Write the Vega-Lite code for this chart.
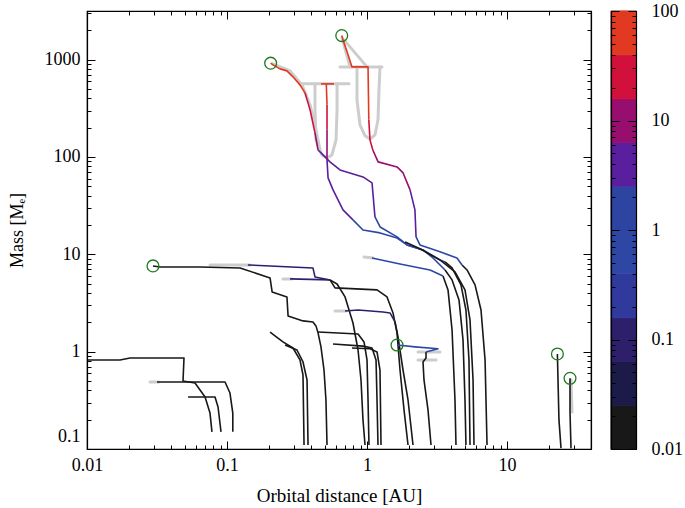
{
"$schema": "https://vega.github.io/schema/vega-lite/v6.json",
"background": "white",
"padding": {"left": 7, "top": 1, "right": 0, "bottom": 0},
"bounds": "flush",
"spacing": 20,
"datasets": {
"tr": [
{"s":"G2k","i":0,"x":7.2,"m":0.11,"c":0.015},{"s":"G2k","i":1,"x":6.97,"m":0.822,"c":0.015},{"s":"G2k","i":2,"x":6.52,"m":2.68,"c":0.015},{"s":"G2k","i":3,"x":5.91,"m":4.85,"c":0.015},{"s":"G2k","i":4,"x":5.18,"m":6.91,"c":0.015},{"s":"G2k","i":5,"x":4.77,"m":7.78,"c":0.015},
{"s":"G2b","i":0,"x":4.77,"m":7.78,"c":0.6},{"s":"G2b","i":1,"x":4.39,"m":9.18,"c":0.6},{"s":"G2b","i":2,"x":3.32,"m":10.6,"c":0.6},{"s":"G2b","i":3,"x":2.39,"m":12.5,"c":0.6},{"s":"G2b","i":4,"x":2.24,"m":15.1,"c":0.6},
{"s":"G2v","i":0,"x":2.24,"m":15.1,"c":4},{"s":"G2v","i":1,"x":2.2,"m":28.6,"c":4},{"s":"G2v","i":2,"x":2.03,"m":45.9,"c":4},
{"s":"G2m","i":0,"x":2.03,"m":45.9,"c":10},{"s":"G2m","i":1,"x":1.81,"m":68.6,"c":10},{"s":"G2m","i":2,"x":1.64,"m":79.1,"c":10},{"s":"G2m","i":3,"x":1.2,"m":89.1,"c":10},{"s":"G2m","i":4,"x":1.1,"m":118,"c":10},
{"s":"G2c","i":0,"x":1.1,"m":118,"c":25},{"s":"G2c","i":1,"x":1.05,"m":150,"c":25},{"s":"G2c","i":2,"x":1.03,"m":241,"c":25},
{"s":"G2r","i":0,"x":1.03,"m":241,"c":60},{"s":"G2r","i":1,"x":1.017,"m":843,"c":60},{"s":"G2r","i":2,"x":0.781,"m":843,"c":60},{"s":"G2r","i":3,"x":0.732,"m":1120,"c":60},{"s":"G2r","i":4,"x":0.674,"m":1597,"c":60},{"s":"G2r","i":5,"x":0.66,"m":1768,"c":60},
{"s":"G1k","i":0,"x":5.44,"m":0.11,"c":0.015},{"s":"G1k","i":1,"x":5.35,"m":0.822,"c":0.015},{"s":"G1k","i":2,"x":5.09,"m":2.68,"c":0.015},{"s":"G1k","i":3,"x":4.69,"m":4.85,"c":0.015},{"s":"G1k","i":4,"x":4.05,"m":7.25,"c":0.015},{"s":"G1k","i":5,"x":3.61,"m":8.35,"c":0.015},
{"s":"G1b","i":0,"x":3.61,"m":8.35,"c":0.6},{"s":"G1b","i":1,"x":3.32,"m":8.76,"c":0.6},{"s":"G1b","i":2,"x":2.51,"m":11.1,"c":0.6},{"s":"G1b","i":3,"x":1.93,"m":12.5,"c":0.6},{"s":"G1b","i":4,"x":1.64,"m":15.1,"c":0.6},{"s":"G1b","i":5,"x":1.24,"m":19.1,"c":0.6},{"s":"G1b","i":6,"x":1.14,"m":24.2,"c":0.6},
{"s":"G1v","i":0,"x":1.14,"m":24.2,"c":4},{"s":"G1v","i":1,"x":1.086,"m":54.2,"c":4},{"s":"G1v","i":2,"x":0.936,"m":62.4,"c":4},{"s":"G1v","i":3,"x":0.641,"m":73.7,"c":4},{"s":"G1v","i":4,"x":0.544,"m":89.1,"c":4},{"s":"G1v","i":5,"x":0.485,"m":105,"c":4},{"s":"G1v","i":6,"x":0.447,"m":118,"c":4},
{"s":"G1m","i":0,"x":0.447,"m":118,"c":10},{"s":"G1m","i":1,"x":0.425,"m":177,"c":10},
{"s":"G1c","i":0,"x":0.425,"m":177,"c":25},{"s":"G1c","i":1,"x":0.392,"m":305,"c":25},{"s":"G1c","i":2,"x":0.361,"m":456,"c":25},
{"s":"G1r","i":0,"x":0.361,"m":456,"c":60},{"s":"G1r","i":1,"x":0.332,"m":551,"c":60},{"s":"G1r","i":2,"x":0.296,"m":666,"c":60},{"s":"G1r","i":3,"x":0.268,"m":767,"c":60},{"s":"G1r","i":4,"x":0.239,"m":804,"c":60},{"s":"G1r","i":5,"x":0.213,"m":884,"c":60},{"s":"G1r","i":6,"x":0.205,"m":920,"c":60},
{"s":"G3k","i":0,"x":5.09,"m":0.11,"c":0.015},{"s":"G3k","i":1,"x":5.01,"m":0.319,"c":0.015},{"s":"G3k","i":2,"x":4.85,"m":1.32,"c":0.015},{"s":"G3k","i":3,"x":4.54,"m":3.4,"c":0.015},{"s":"G3k","i":4,"x":4.05,"m":5.46,"c":0.015},{"s":"G3k","i":5,"x":3.61,"m":6.91,"c":0.015},
{"s":"G3b","i":0,"x":3.61,"m":6.91,"c":0.6},{"s":"G3b","i":1,"x":2.96,"m":9.18,"c":0.6},{"s":"G3b","i":2,"x":2.51,"m":11.1,"c":0.6},{"s":"G3b","i":3,"x":1.93,"m":12.5,"c":0.6},{"s":"G3b","i":4,"x":1.64,"m":14.7,"c":0.6},{"s":"G3b","i":5,"x":1.24,"m":16.6,"c":0.6},{"s":"G3b","i":6,"x":0.936,"m":17.8,"c":0.6},{"s":"G3b","i":7,"x":0.794,"m":22.6,"c":0.6},
{"s":"G3v","i":0,"x":0.794,"m":22.6,"c":4},{"s":"G3v","i":1,"x":0.674,"m":28.6,"c":4},{"s":"G3v","i":2,"x":0.572,"m":45.9,"c":4},{"s":"G3v","i":3,"x":0.527,"m":61,"c":4},{"s":"G3v","i":4,"x":0.518,"m":93.4,"c":4},
{"s":"G3m","i":0,"x":0.518,"m":93.4,"c":10},{"s":"G3m","i":1,"x":0.518,"m":190,"c":10},
{"s":"G3c","i":0,"x":0.518,"m":190,"c":25},{"s":"G3c","i":1,"x":0.518,"m":343,"c":25},
{"s":"G3r","i":0,"x":0.518,"m":343,"c":60},{"s":"G3r","i":1,"x":0.512,"m":564,"c":60},
{"s":"G3t","i":0,"x":0.469,"m":564,"c":60},{"s":"G3t","i":1,"x":0.581,"m":564,"c":60},
{"s":"X","i":0,"x":5.81,"m":0.11,"c":0.015},{"s":"X","i":1,"x":5.72,"m":0.512,"c":0.015},{"s":"X","i":2,"x":5.44,"m":2.12,"c":0.015},{"s":"X","i":3,"x":5.01,"m":4.31,"c":0.015},{"s":"X","i":4,"x":4.25,"m":6.59,"c":0.015},{"s":"X","i":5,"x":3.32,"m":8.76,"c":0.015},{"s":"X","i":6,"x":2.39,"m":11.4,"c":0.015},{"s":"X","i":7,"x":1.87,"m":13.4,"c":0.015},
{"s":"B1k","i":0,"x":4.32,"m":0.11,"c":0.015},{"s":"B1k","i":1,"x":4.25,"m":0.319,"c":0.015},{"s":"B1k","i":2,"x":4.05,"m":1.67,"c":0.015},{"s":"B1k","i":3,"x":3.79,"m":4.31,"c":0.015},{"s":"B1k","i":4,"x":3.49,"m":6.0,"c":0.015},
{"s":"B1b","i":0,"x":3.49,"m":6.0,"c":0.6},{"s":"B1b","i":1,"x":2.82,"m":6.91,"c":0.6},{"s":"B1b","i":2,"x":1.72,"m":7.96,"c":0.6},{"s":"B1b","i":3,"x":1.086,"m":9.18,"c":0.6},
{"s":"P7","i":0,"x":0.518,"m":0.11,"c":0.015},{"s":"P7","i":1,"x":0.509,"m":0.319,"c":0.015},{"s":"P7","i":2,"x":0.493,"m":0.648,"c":0.015},{"s":"P7","i":3,"x":0.469,"m":1.12,"c":0.015},{"s":"P7","i":4,"x":0.447,"m":1.56,"c":0.015},{"s":"P7","i":5,"x":0.432,"m":1.84,"c":0.015},{"s":"P7","i":6,"x":0.411,"m":2.02,"c":0.015},{"s":"P7","i":7,"x":0.349,"m":2.07,"c":0.015},{"s":"P7","i":8,"x":0.273,"m":2.33,"c":0.015},{"s":"P7","i":9,"x":0.268,"m":3.65,"c":0.015},{"s":"P7","i":10,"x":0.21,"m":4.11,"c":0.015},{"s":"P7","i":11,"x":0.203,"m":5.72,"c":0.015},{"s":"P7","i":12,"x":0.124,"m":7.25,"c":0.015},{"s":"P7","i":13,"x":0.0641,"m":7.42,"c":0.015},{"s":"P7","i":14,"x":0.0332,"m":7.42,"c":0.015},{"s":"P7","i":15,"x":0.0296,"m":7.6,"c":0.015},
{"s":"P8","i":0,"x":1.033,"m":0.11,"c":0.015},{"s":"P8","i":1,"x":1.017,"m":0.319,"c":0.015},{"s":"P8","i":2,"x":1.0,"m":0.822,"c":0.015},{"s":"P8","i":3,"x":0.952,"m":1.26,"c":0.015},{"s":"P8","i":4,"x":0.863,"m":1.52,"c":0.015},{"s":"P8","i":5,"x":0.447,"m":1.59,"c":0.015},
{"s":"TAk","i":0,"x":0.968,"m":0.11,"c":0.015},{"s":"TAk","i":1,"x":0.936,"m":0.199,"c":0.015},{"s":"TAk","i":2,"x":0.906,"m":0.512,"c":0.015},{"s":"TAk","i":3,"x":0.863,"m":1.04,"c":0.015},{"s":"TAk","i":4,"x":0.794,"m":1.97,"c":0.015},{"s":"TAk","i":5,"x":0.697,"m":3.65,"c":0.015},{"s":"TAk","i":6,"x":0.611,"m":4.96,"c":0.015},{"s":"TAk","i":7,"x":0.544,"m":5.46,"c":0.015},
{"s":"TAb","i":0,"x":0.544,"m":5.46,"c":0.1},{"s":"TAb","i":1,"x":0.425,"m":5.86,"c":0.1},{"s":"TAb","i":2,"x":0.411,"m":7.25,"c":0.1},{"s":"TAb","i":3,"x":0.141,"m":7.78,"c":0.1},
{"s":"TBk","i":0,"x":1.963,"m":0.11,"c":0.015},{"s":"TBk","i":1,"x":1.838,"m":0.252,"c":0.015},{"s":"TBk","i":2,"x":1.721,"m":0.648,"c":0.015},{"s":"TBk","i":3,"x":1.638,"m":1.56,"c":0.015},{"s":"TBk","i":4,"x":1.534,"m":2.5,"c":0.015},{"s":"TBk","i":5,"x":1.39,"m":3.65,"c":0.015},{"s":"TBk","i":6,"x":1.179,"m":4.31,"c":0.015},{"s":"TBk","i":7,"x":0.591,"m":4.52,"c":0.015},{"s":"TBk","i":8,"x":0.544,"m":5.46,"c":0.015},
{"s":"TBb","i":0,"x":0.544,"m":5.46,"c":0.1},{"s":"TBb","i":1,"x":0.282,"m":5.59,"c":0.1},
{"s":"TCk","i":0,"x":2.131,"m":0.11,"c":0.015},{"s":"TCk","i":1,"x":1.963,"m":0.319,"c":0.015},{"s":"TCk","i":2,"x":1.808,"m":0.648,"c":0.015},{"s":"TCk","i":3,"x":1.665,"m":1.42,"c":0.015},{"s":"TCk","i":4,"x":1.585,"m":2.02,"c":0.015},
{"s":"TCb","i":0,"x":1.585,"m":2.02,"c":0.1},{"s":"TCb","i":1,"x":1.46,"m":2.5,"c":0.1},{"s":"TCb","i":2,"x":1.301,"m":2.56,"c":0.1},{"s":"TCb","i":3,"x":0.863,"m":2.68,"c":0.1},{"s":"TCb","i":4,"x":0.697,"m":2.62,"c":0.1},
{"s":"L1","i":0,"x":0.355,"m":0.11,"c":0.015},{"s":"L1","i":1,"x":0.349,"m":0.576,"c":0.015},{"s":"L1","i":2,"x":0.332,"m":0.822,"c":0.015},{"s":"L1","i":3,"x":0.296,"m":1.09,"c":0.015},{"s":"L1","i":4,"x":0.251,"m":1.26,"c":0.015},{"s":"L1","i":5,"x":0.203,"m":1.59,"c":0.015},
{"s":"L2","i":0,"x":0.379,"m":0.11,"c":0.015},{"s":"L2","i":1,"x":0.373,"m":0.512,"c":0.015},{"s":"L2","i":2,"x":0.349,"m":0.784,"c":0.015},{"s":"L2","i":3,"x":0.316,"m":1.04,"c":0.015},{"s":"L2","i":4,"x":0.26,"m":1.17,"c":0.015},
{"s":"L3","i":0,"x":1.198,"m":0.11,"c":0.015},{"s":"L3","i":1,"x":1.179,"m":0.319,"c":0.015},{"s":"L3","i":2,"x":1.16,"m":0.822,"c":0.015},{"s":"L3","i":3,"x":1.086,"m":1.09,"c":0.015},{"s":"L3","i":4,"x":0.936,"m":1.14,"c":0.015},{"s":"L3","i":5,"x":0.572,"m":1.2,"c":0.015},
{"s":"L4","i":0,"x":1.259,"m":0.11,"c":0.015},{"s":"L4","i":1,"x":1.238,"m":0.648,"c":0.015},{"s":"L4","i":2,"x":1.179,"m":0.993,"c":0.015},{"s":"L4","i":3,"x":1.051,"m":1.07,"c":0.015},{"s":"L4","i":4,"x":0.781,"m":1.09,"c":0.015},
{"s":"PCk","i":0,"x":2.865,"m":0.11,"c":0.015},{"s":"PCk","i":1,"x":2.727,"m":0.252,"c":0.015},{"s":"PCk","i":2,"x":2.553,"m":0.512,"c":0.015},{"s":"PCk","i":3,"x":2.512,"m":0.784,"c":0.015},{"s":"PCk","i":4,"x":2.639,"m":0.862,"c":0.015},{"s":"PCk","i":5,"x":2.639,"m":0.993,"c":0.015},
{"s":"PCb","i":0,"x":2.639,"m":0.993,"c":0.6},{"s":"PCb","i":1,"x":3.216,"m":1.07,"c":0.6},{"s":"PCb","i":2,"x":2.202,"m":1.12,"c":0.6},{"s":"PCb","i":3,"x":1.638,"m":1.17,"c":0.6},
{"s":"LG1","i":0,"x":0.0781,"m":0.15,"c":0.015},{"s":"LG1","i":1,"x":0.0756,"m":0.234,"c":0.015},{"s":"LG1","i":2,"x":0.0697,"m":0.342,"c":0.015},{"s":"LG1","i":3,"x":0.0591,"m":0.477,"c":0.015},{"s":"LG1","i":4,"x":0.0485,"m":0.5,"c":0.015},{"s":"LG1","i":5,"x":0.0493,"m":0.862,"c":0.015},{"s":"LG1","i":6,"x":0.0203,"m":0.862,"c":0.015},{"s":"LG1","i":7,"x":0.0172,"m":0.822,"c":0.015},{"s":"LG1","i":8,"x":0.0089,"m":0.822,"c":0.015},
{"s":"LG2","i":0,"x":0.11,"m":0.15,"c":0.015},{"s":"LG2","i":1,"x":0.11,"m":0.234,"c":0.015},{"s":"LG2","i":2,"x":0.105,"m":0.376,"c":0.015},{"s":"LG2","i":3,"x":0.0968,"m":0.488,"c":0.015},{"s":"LG2","i":4,"x":0.0316,"m":0.488,"c":0.015},
{"s":"LG3","i":0,"x":0.0906,"m":0.15,"c":0.015},{"s":"LG3","i":1,"x":0.0863,"m":0.27,"c":0.015},{"s":"LG3","i":2,"x":0.0821,"m":0.342,"c":0.015},{"s":"LG3","i":3,"x":0.0527,"m":0.342,"c":0.015},
{"s":"O1","i":0,"x":24.3,"m":0.102,"c":0.015},{"s":"O1","i":1,"x":23.5,"m":0.199,"c":0.015},{"s":"O1","i":2,"x":22.9,"m":0.947,"c":0.015},
{"s":"O2","i":0,"x":28.65,"m":0.102,"c":0.015},{"s":"O2","i":1,"x":28.18,"m":0.24,"c":0.015},{"s":"O2","i":2,"x":28.18,"m":0.532,"c":0.015}
],
"gr": [
{"s":"gG3U","i":0,"x":0.425,"m":564},{"s":"gG3U","i":1,"x":0.425,"m":305},{"s":"gG3U","i":2,"x":0.432,"m":150},{"s":"gG3U","i":3,"x":0.477,"m":105},{"s":"gG3U","i":4,"x":0.518,"m":97.9},{"s":"gG3U","i":5,"x":0.562,"m":105},{"s":"gG3U","i":6,"x":0.601,"m":150},{"s":"gG3U","i":7,"x":0.611,"m":305},{"s":"gG3U","i":8,"x":0.611,"m":564},
{"s":"gG3H","i":0,"x":0.332,"m":564},{"s":"gG3H","i":1,"x":0.744,"m":564},
{"s":"gG2U","i":0,"x":0.848,"m":843},{"s":"gG2U","i":1,"x":0.848,"m":386},{"s":"gG2U","i":2,"x":0.891,"m":214},{"s":"gG2U","i":3,"x":0.968,"m":165},{"s":"gG2U","i":4,"x":1.051,"m":153},{"s":"gG2U","i":5,"x":1.141,"m":169},{"s":"gG2U","i":6,"x":1.198,"m":241},{"s":"gG2U","i":7,"x":1.218,"m":489},{"s":"gG2U","i":8,"x":1.238,"m":843},
{"s":"gG2H","i":0,"x":0.641,"m":843},{"s":"gG2H","i":1,"x":1.28,"m":843},
{"s":"gG2a","i":0,"x":0.663,"m":1675},{"s":"gG2a","i":1,"x":0.756,"m":843},
{"s":"gG2b","i":0,"x":0.685,"m":1597},{"s":"gG2b","i":1,"x":1.0,"m":843},
{"s":"gG1","i":0,"x":0.213,"m":905},{"s":"gG1","i":1,"x":0.282,"m":767},{"s":"gG1","i":2,"x":0.343,"m":551},{"s":"gG1","i":3,"x":0.392,"m":343},{"s":"gG1","i":4,"x":0.432,"m":190},{"s":"gG1","i":5,"x":0.462,"m":118},
{"s":"gTA","i":0,"x":0.0756,"m":7.78},{"s":"gTA","i":1,"x":0.146,"m":7.78},
{"s":"gTB","i":0,"x":0.251,"m":5.59},{"s":"gTB","i":1,"x":0.291,"m":5.59},
{"s":"gTC","i":0,"x":0.591,"m":2.62},{"s":"gTC","i":1,"x":0.708,"m":2.62},
{"s":"gB1","i":0,"x":0.952,"m":9.4},{"s":"gB1","i":1,"x":1.104,"m":9.18},
{"s":"gLG2","i":0,"x":0.0282,"m":0.488},{"s":"gLG2","i":1,"x":0.0325,"m":0.488},
{"s":"gPC1","i":0,"x":2.313,"m":0.822},{"s":"gPC1","i":1,"x":3.112,"m":0.822},
{"s":"gPC2","i":0,"x":2.313,"m":0.993},{"s":"gPC2","i":1,"x":3.322,"m":0.993},
{"s":"gO2","i":0,"x":28.65,"m":0.512},{"s":"gO2","i":1,"x":29.12,"m":0.24}
],
"end": [
{"x":0.205,"m":920},{"x":0.66,"m":1768},{"x":0.0296,"m":7.6},{"x":1.638,"m":1.17},{"x":22.9,"m":0.947},{"x":28.18,"m":0.532}
],
"bar": [
{"lo":0.01,"hi":0.0251,"c":0.0158},{"lo":0.0251,"hi":0.0631,"c":0.0398},{"lo":0.0631,"hi":0.158,"c":0.1},{"lo":0.158,"hi":0.398,"c":0.251},{"lo":0.398,"hi":1,"c":0.631},{"lo":1,"hi":2.51,"c":1.58},{"lo":2.51,"hi":6.31,"c":3.98},{"lo":6.31,"hi":15.8,"c":10},{"lo":15.8,"hi":39.8,"c":25.1},{"lo":39.8,"hi":100,"c":63.1}
]
},
"hconcat": [
{
"width": 504, "height": 438,
"layer": [
{"data": {"name": "gr"},
 "mark": {"type": "line", "stroke": "#cdcdcd", "strokeWidth": 3, "clip": true, "strokeCap": "round", "strokeJoin": "round"},
 "encoding": {
  "x": {"field": "x", "type": "quantitative", "scale": {"type": "log", "domain": [0.01, 39.8], "nice": false},
   "axis": {"orient": "bottom", "zindex": 1, "labelFlush": false, "values": [0.01,0.02,0.03,0.04,0.05,0.06,0.07,0.08,0.09,0.1,0.2,0.3,0.4,0.5,0.6,0.7,0.8,0.9,1,2,3,4,5,6,7,8,9,10,20,30],
    "labelExpr": "abs(log(datum.value)/LN10 - round(log(datum.value)/LN10)) < 0.01 ? format(datum.value, '~g') : ''",
    "tickSize": {"condition": {"test": "abs(log(datum.value)/LN10 - round(log(datum.value)/LN10)) < 0.01", "value": -8}, "value": -4},
    "labelPadding": 15, "title": "Orbital distance [AU]", "titleFontSize": 19, "titlePadding": 8}},
  "y": {"field": "m", "type": "quantitative", "scale": {"type": "log", "domain": [0.1, 3162], "nice": false},
   "axis": {"orient": "left", "zindex": 1, "values": [0.1,0.2,0.3,0.4,0.5,0.6,0.7,0.8,0.9,1,2,3,4,5,6,7,8,9,10,20,30,40,50,60,70,80,90,100,200,300,400,500,600,700,800,900,1000,2000,3000],
    "labelExpr": "abs(log(datum.value)/LN10 - round(log(datum.value)/LN10)) < 0.01 ? format(datum.value, '~g') : ''",
    "tickSize": {"condition": {"test": "abs(log(datum.value)/LN10 - round(log(datum.value)/LN10)) < 0.01", "value": -8}, "value": -4},
    "labelPadding": 15, "labelFlush": true, "labelFlushOffset": -4, "title": "Mass [Mₑ]", "titlePadding": 18}},
  "detail": {"field": "s"},
  "order": {"field": "i"}
 }},
{"data": {"name": "tr"},
 "mark": {"type": "line", "strokeWidth": 1.6, "clip": true, "strokeJoin": "round"},
 "encoding": {
  "x": {"field": "x", "type": "quantitative",
   "axis": {"orient": "top", "zindex": 1, "labels": false, "title": null, "values": [0.01,0.02,0.03,0.04,0.05,0.06,0.07,0.08,0.09,0.1,0.2,0.3,0.4,0.5,0.6,0.7,0.8,0.9,1,2,3,4,5,6,7,8,9,10,20,30],
    "tickSize": {"condition": {"test": "abs(log(datum.value)/LN10 - round(log(datum.value)/LN10)) < 0.01", "value": -8}, "value": -4}}},
  "y": {"field": "m", "type": "quantitative",
   "axis": {"orient": "right", "zindex": 1, "labels": false, "title": null, "values": [0.1,0.2,0.3,0.4,0.5,0.6,0.7,0.8,0.9,1,2,3,4,5,6,7,8,9,10,20,30,40,50,60,70,80,90,100,200,300,400,500,600,700,800,900,1000,2000,3000],
    "tickSize": {"condition": {"test": "abs(log(datum.value)/LN10 - round(log(datum.value)/LN10)) < 0.01", "value": -8}, "value": -4}}},
  "color": {"field": "c", "type": "quantitative", "legend": null,
   "scale": {"type": "threshold", "domain": [0.0251, 0.0631, 0.158, 0.398, 1, 2.51, 6.31, 15.8, 39.8],
    "range": ["#181818", "#1b1a48", "#2e1f6b", "#303a9c", "#2e47a4", "#2d45a0", "#5a1f9e", "#970e6e", "#d2103c", "#e23a22"]}},
  "detail": {"field": "s"},
  "order": {"field": "i"}
 }},
{"data": {"name": "end"},
 "mark": {"type": "point", "shape": "circle", "filled": false, "color": "#1f7a1f", "strokeWidth": 1.3, "size": 140, "opacity": 1},
 "encoding": {
  "x": {"field": "x", "type": "quantitative", "axis": null},
  "y": {"field": "m", "type": "quantitative", "axis": null}
 }}
],
"resolve": {"axis": {"x": "independent", "y": "independent"}}
},
{
"width": 25, "height": 438,
"data": {"name": "bar"},
"layer": [
{"mark": {"type": "rect", "strokeWidth": 0.8},
 "encoding": {
  "x": {"datum": 0, "type": "quantitative", "scale": {"domain": [0, 1]}, "axis": null},
  "x2": {"datum": 1},
  "y": {"field": "lo", "type": "quantitative", "scale": {"type": "log", "domain": [0.01, 100], "nice": false},
   "axis": {"orient": "right", "zindex": 1, "title": null, "values": [0.01,0.02,0.03,0.04,0.05,0.06,0.07,0.08,0.09,0.1,0.2,0.3,0.4,0.5,0.6,0.7,0.8,0.9,1,2,3,4,5,6,7,8,9,10,20,30,40,50,60,70,80,90,100],
    "labelExpr": "abs(log(datum.value)/LN10 - round(log(datum.value)/LN10)) < 0.01 ? format(datum.value, '~g') : ''",
    "tickSize": {"condition": {"test": "abs(log(datum.value)/LN10 - round(log(datum.value)/LN10)) < 0.01", "value": -8}, "value": -4},
    "labelPadding": 23}},
  "y2": {"field": "hi"},
  "color": {"field": "c", "type": "quantitative", "legend": null,
   "scale": {"type": "threshold", "domain": [0.0251, 0.0631, 0.158, 0.398, 1, 2.51, 6.31, 15.8, 39.8],
    "range": ["#181818", "#1b1a48", "#2e1f6b", "#303a9c", "#2e47a4", "#2d45a0", "#5a1f9e", "#970e6e", "#d2103c", "#e23a22"]}},
  "stroke": {"field": "c", "type": "quantitative", "legend": null,
   "scale": {"type": "threshold", "domain": [0.0251, 0.0631, 0.158, 0.398, 1, 2.51, 6.31, 15.8, 39.8],
    "range": ["#181818", "#1b1a48", "#2e1f6b", "#303a9c", "#2e47a4", "#2d45a0", "#5a1f9e", "#970e6e", "#d2103c", "#e23a22"]}}
 }},
{"mark": {"type": "rect", "opacity": 0},
 "encoding": {
  "x": {"datum": 0, "type": "quantitative", "axis": null},
  "x2": {"datum": 1},
  "y": {"field": "lo", "type": "quantitative",
   "axis": {"orient": "left", "zindex": 1, "title": null, "labels": false, "values": [0.01,0.02,0.03,0.04,0.05,0.06,0.07,0.08,0.09,0.1,0.2,0.3,0.4,0.5,0.6,0.7,0.8,0.9,1,2,3,4,5,6,7,8,9,10,20,30,40,50,60,70,80,90,100],
    "tickSize": {"condition": {"test": "abs(log(datum.value)/LN10 - round(log(datum.value)/LN10)) < 0.01", "value": -8}, "value": -4}}},
  "y2": {"field": "hi"}
 }}
],
"resolve": {"axis": {"y": "independent"}}
}
],
"config": {
 "font": "Liberation Serif",
 "view": {"stroke": "black", "strokeWidth": 1.2},
 "axis": {"labelFont": "Liberation Serif", "labelFontSize": 18, "labelColor": "black", "titleFont": "Liberation Serif", "titleFontSize": 18, "titleFontWeight": "normal", "titleColor": "black", "domainColor": "black", "domainWidth": 1.2, "tickColor": "black", "tickWidth": 1, "grid": false, "labelOverlap": false}
}
}
